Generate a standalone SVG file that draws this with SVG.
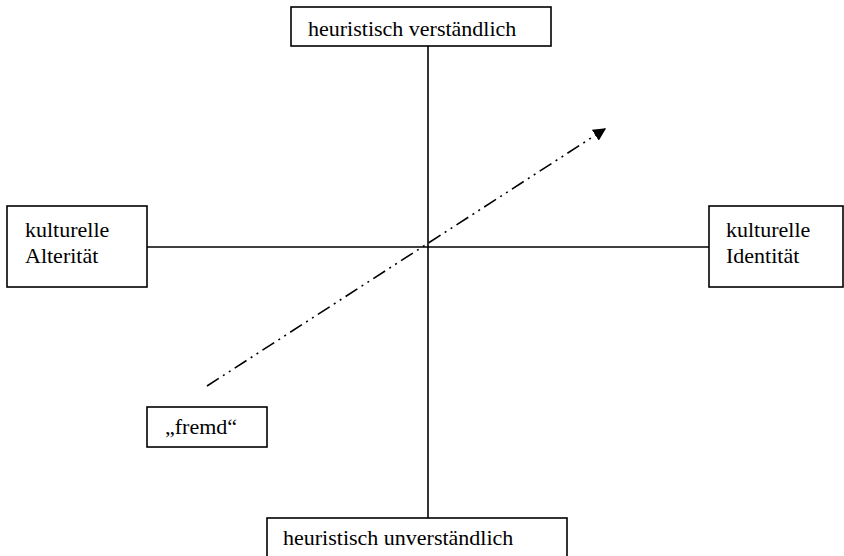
<svg xmlns="http://www.w3.org/2000/svg" width="844" height="556" viewBox="0 0 844 556">
  <style>
    .box { fill: #ffffff; stroke: #000000; stroke-width: 1.6; }
    .lbl { font-family: "Liberation Serif", "Times New Roman", serif; font-size: 22px; fill: #000000; }
    .axis { stroke: #000000; stroke-width: 1.6; fill: none; }
    .dir { stroke: #000000; stroke-width: 1.6; fill: none; stroke-dasharray: 14 5 2 5 2 5; }
  </style>
  <defs>
    <marker id="head" viewBox="0 0 10 10" refX="9" refY="5" markerWidth="8" markerHeight="8" markerUnits="strokeWidth" orient="auto">
      <path d="M0,0 L10,5 L0,10 Z" fill="#000000"/>
    </marker>
  </defs>

  <rect width="844" height="556" fill="#ffffff"/>

  <!-- axes and direction arrow -->
  <g id="connectors">
    <line class="axis" x1="428" y1="46" x2="428" y2="518"/>
    <line class="axis" x1="147" y1="247" x2="709" y2="247"/>
    <line class="dir" x1="207" y1="386" x2="605" y2="129" marker-end="url(#head)"/>
  </g>

  <g id="top">
    <rect class="box" x="291" y="7" width="260" height="39"/>
    <text class="lbl" x="308" y="36">heuristisch verständlich</text>
  </g>

  <g id="left">
    <rect class="box" x="7" y="206" width="140" height="81"/>
    <text class="lbl" x="25" y="237">kulturelle</text>
    <text class="lbl" x="25" y="263">Alterität</text>
  </g>

  <g id="right">
    <rect class="box" x="709" y="206" width="134" height="81"/>
    <text class="lbl" x="726" y="237">kulturelle</text>
    <text class="lbl" x="726" y="263">Identität</text>
  </g>

  <g id="fremd">
    <rect class="box" x="147" y="407" width="120" height="40"/>
    <text class="lbl" x="165" y="434">„fremd“</text>
  </g>

  <g id="bottom">
    <rect class="box" x="267" y="518" width="300" height="45"/>
    <text class="lbl" x="283" y="545">heuristisch unverständlich</text>
  </g>
</svg>
